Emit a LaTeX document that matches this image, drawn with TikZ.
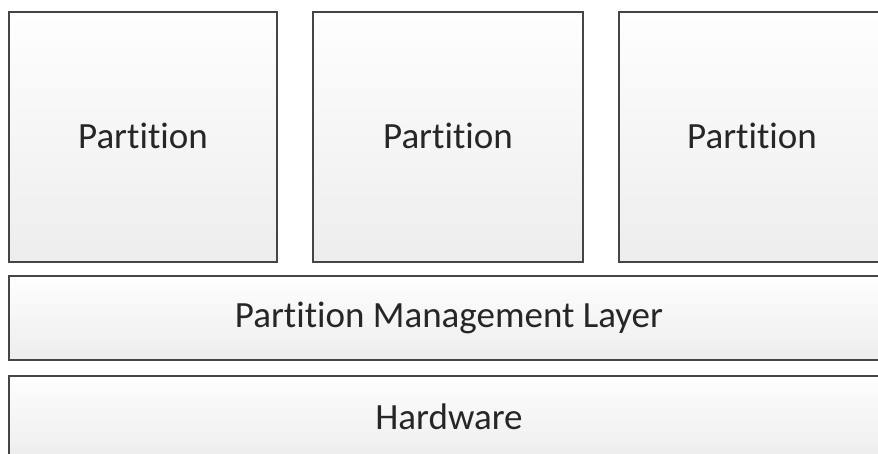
\documentclass[tikz,border=0pt]{standalone}
\usepackage{fontspec}
\setmainfont{Carlito}[RawFeature={-liga;-clig;-calt;-dlig}]
\definecolor{edgegray}{HTML}{454545}
\definecolor{filltop}{HTML}{FEFEFE}
\definecolor{fillbot}{HTML}{EDEDED}
\begin{document}
\begin{tikzpicture}[x=1pt,y=-1pt,
  layerbox/.style={draw=edgegray, line width=1.6pt, top color=filltop, bottom color=fillbot,
    font=\fontsize{37}{40}\selectfont, text=black!85}]
  \useasboundingbox (0,0) rectangle (878,454);
  \clip (0,0) rectangle (878,454);
  % partitions
  \draw[layerbox] (9,12) rectangle (277,262) node[midway, yshift=1.5pt] (p1) {Partition};
  \draw[layerbox] (313,12) rectangle (583,262) node[midway, yshift=1.5pt] (p2) {Partition};
  \draw[layerbox] (619,12) rectangle (885,262) node[midway, yshift=1.5pt] (p3) {Partition};
  % management layer
  \draw[layerbox] (9,276) rectangle (889,360) node[midway] (pml) {Partition Management Layer};
  % hardware
  \draw[layerbox] (9,376) rectangle (889,458) node[midway] (hw) {Hardware};
\end{tikzpicture}
\end{document}
